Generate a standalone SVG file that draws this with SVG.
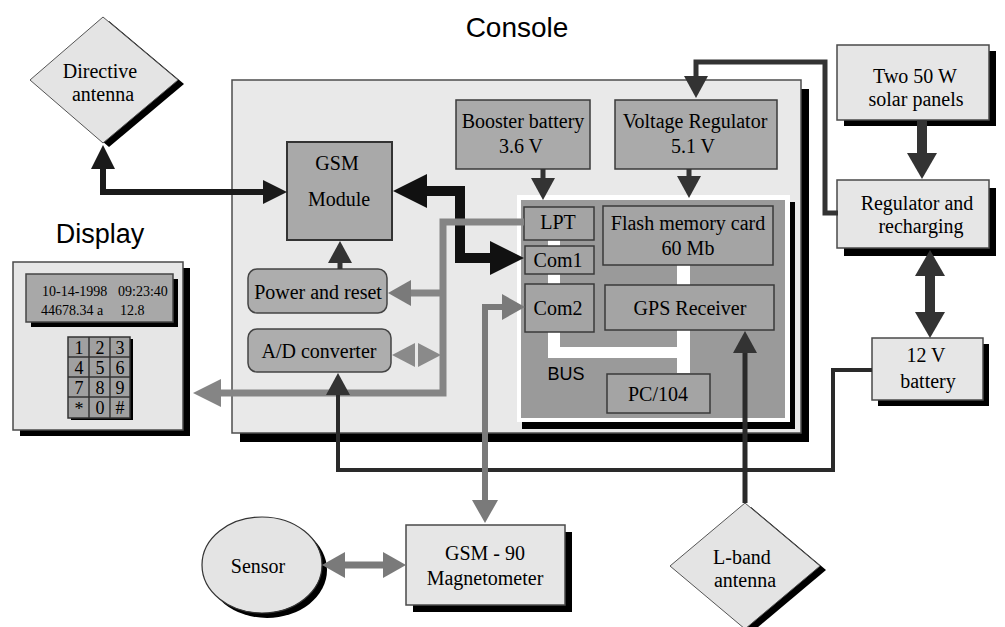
<svg xmlns="http://www.w3.org/2000/svg" width="1005" height="627" viewBox="0 0 1005 627">
<defs>
<style>
.t{font-family:"Liberation Serif","Times New Roman",serif;font-size:20px;fill:#000;text-anchor:middle}
.s{font-family:"Liberation Sans",Arial,sans-serif;fill:#000;text-anchor:middle}
.lt{fill:#e6e6e6;stroke:#4a4a4a;stroke-width:1.5}
.md{fill:#aaaaaa;stroke:#3a3a3a;stroke-width:1.5}
.ins{fill:#a4a4a4;stroke:#3a3a3a;stroke-width:1.5}
.sh{fill:#000}
.ln{fill:none;stroke-linejoin:miter}
</style>
<marker id="mBlk" viewBox="0 -12 24 24" markerWidth="24" markerHeight="24" markerUnits="userSpaceOnUse" refX="0" refY="0" orient="auto-start-reverse"><path d="M0,-12 L24,0 L0,12 z" fill="#1a1a1a"/></marker>
<marker id="mBig" viewBox="0 -17 34 34" markerWidth="34" markerHeight="34" markerUnits="userSpaceOnUse" refX="0" refY="0" orient="auto-start-reverse"><path d="M0,-17 L34,0 L0,17 z" fill="#111"/></marker>
<marker id="mDk" viewBox="0 -15 26 30" markerWidth="26" markerHeight="30" markerUnits="userSpaceOnUse" refX="0" refY="0" orient="auto-start-reverse"><path d="M0,-15 L26,0 L0,15 z" fill="#333"/></marker>
<marker id="mDkS" viewBox="0 -12 22 24" markerWidth="22" markerHeight="24" markerUnits="userSpaceOnUse" refX="0" refY="0" orient="auto-start-reverse"><path d="M0,-12 L22,0 L0,12 z" fill="#333"/></marker>
<marker id="mGr" viewBox="0 -14 28 28" markerWidth="28" markerHeight="28" markerUnits="userSpaceOnUse" refX="0" refY="0" orient="auto-start-reverse"><path d="M0,-14 L28,0 L0,14 z" fill="#858585"/></marker>
<marker id="mGrS" viewBox="0 -13 23 26" markerWidth="23" markerHeight="26" markerUnits="userSpaceOnUse" refX="0" refY="0" orient="auto-start-reverse"><path d="M0,-13 L23,0 L0,13 z" fill="#7a7a7a"/></marker>
</defs>
<rect width="1005" height="627" fill="#fff"/>

<g id="console">
<text class="s" x="517" y="37" font-size="28">Console</text>
<rect class="sh" x="240" y="89" width="569" height="353"/>
<rect x="232" y="80" width="569" height="353" fill="#e9e9e9" stroke="#4d4d4d" stroke-width="1.5"/>
</g>

<g id="pc104-board">
<rect class="sh" x="522" y="202" width="273" height="227"/>
<rect x="517" y="195" width="273" height="227" fill="#fff"/>
<rect x="521" y="200" width="264" height="218" fill="#9a9a9a"/>
<rect x="548" y="240" width="12" height="118" fill="#fff"/>
<rect x="548" y="347" width="142" height="11" fill="#fff"/>
<rect x="677" y="262" width="13" height="111" fill="#fff"/>
<text class="s" x="566" y="380" font-size="18" fill="#222">BUS</text>
</g>

<g id="lpt"><rect class="ins" x="524" y="207" width="70" height="33"/><text class="t" x="558" y="229">LPT</text></g>
<g id="com1"><rect class="ins" x="525" y="246" width="69" height="28"/><text class="t" x="558" y="267">Com1</text></g>
<g id="com2"><rect class="ins" x="525" y="284" width="69" height="48"/><text class="t" x="558" y="315">Com2</text></g>
<g id="flash"><rect class="ins" x="603" y="206" width="170" height="59"/><text class="t" x="688" y="230">Flash memory card</text><text class="t" x="688" y="255">60 Mb</text></g>
<g id="gps"><rect class="ins" x="605" y="285" width="169" height="45"/><text class="t" x="690" y="315">GPS Receiver</text></g>
<g id="pc104"><rect class="ins" x="607" y="374" width="103" height="39"/><text class="t" x="658" y="401">PC/104</text></g>

<g id="gsm-module"><rect x="287" y="142" width="105" height="98" fill="#a9a9a9" stroke="#333" stroke-width="2"/><text class="t" x="337" y="170">GSM</text><text class="t" x="339" y="206">Module</text></g>
<g id="power-reset"><rect x="248" y="269" width="139" height="44" rx="9" fill="#adadad" stroke="#444" stroke-width="1.5"/><text class="t" x="318" y="299">Power and reset</text></g>
<g id="ad-converter"><rect x="248" y="329" width="143" height="43" rx="9" fill="#adadad" stroke="#444" stroke-width="1.5"/><text class="t" x="319" y="358">A/D converter</text></g>
<g id="booster"><rect class="md" x="456" y="100" width="134" height="69"/><text class="t" x="523" y="128">Booster battery</text><text class="t" x="521" y="153">3.6 V</text></g>
<g id="voltage-regulator"><rect class="md" x="615" y="100" width="162" height="69"/><text class="t" x="695" y="128">Voltage Regulator</text><text class="t" x="693" y="153">5.1 V</text></g>

<g id="display">
<text class="s" x="100" y="243" font-size="27">Display</text>
<rect class="sh" x="20" y="268" width="170" height="168"/>
<rect class="lt" x="13" y="262" width="170" height="168"/>
<rect class="sh" x="31" y="279" width="147" height="48"/>
<rect x="26" y="274" width="147" height="48" fill="#a8a8a8" stroke="#444" stroke-width="1.5"/>
<g font-family="Liberation Serif,serif" font-size="14" fill="#000">
<text x="42" y="296">10-14-1998</text><text x="118" y="296">09:23:40</text>
<text x="41" y="315">44678.34 a</text><text x="120" y="315">12.8</text>
</g>
<rect class="sh" x="71" y="339" width="62" height="81"/>
<rect x="68" y="337" width="62" height="81" fill="#a0a0a0" stroke="#333" stroke-width="1.5"/>
<path d="M89,337V418M110,337V418M68,357H130M68,377H130M68,397H130" stroke="#333" stroke-width="1.5" fill="none"/>
<g font-family="Liberation Serif,serif" font-size="18" fill="#000" text-anchor="middle">
<text x="79" y="354">1</text><text x="100" y="354">2</text><text x="120" y="354">3</text>
<text x="79" y="374">4</text><text x="100" y="374">5</text><text x="120" y="374">6</text>
<text x="79" y="394">7</text><text x="100" y="394">8</text><text x="120" y="394">9</text>
<text x="79" y="415">*</text><text x="100" y="414">0</text><text x="120" y="414">#</text>
</g>
</g>

<g id="directive-antenna">
<polygon class="sh" points="109,21 184,84 109,147 36,84"/>
<polygon points="103,17 178,80 103,143 30,80" fill="#e4e4e4" stroke="#555" stroke-width="1"/>
<text class="t" x="100" y="78">Directive</text><text class="t" x="103" y="101">antenna</text>
</g>

<g id="lband-antenna">
<polygon class="sh" points="751,507 826,570 751,633 676,570"/>
<polygon points="745,503 820,566 745,629 670,566" fill="#e4e4e4" stroke="#555" stroke-width="1"/>
<text class="t" x="742" y="564">L-band</text><text class="t" x="745" y="587">antenna</text>
</g>

<g id="solar-panels"><rect class="sh" x="844" y="51" width="152" height="75"/><rect class="lt" x="837" y="45" width="152" height="75"/><text class="t" x="915" y="83">Two 50 W</text><text class="t" x="916" y="106">solar panels</text></g>
<g id="regulator-recharging"><rect class="sh" x="844" y="188" width="152" height="68"/><rect class="lt" x="837" y="180" width="152" height="68"/><text class="t" x="917" y="210">Regulator and</text><text class="t" x="921" y="233">recharging</text></g>
<g id="battery-12v"><rect class="sh" x="878" y="344" width="111" height="62"/><rect class="lt" x="872" y="338" width="111" height="62"/><text class="t" x="926" y="362">12 V</text><text class="t" x="928" y="388">battery</text></g>
<g id="magnetometer"><rect class="sh" x="413" y="532" width="159" height="80"/><rect class="lt" x="406" y="525" width="159" height="80"/><text class="t" x="485" y="560">GSM - 90</text><text class="t" x="485" y="585">Magnetometer</text></g>
<g id="sensor"><ellipse class="sh" cx="267" cy="570" rx="60" ry="48"/><ellipse cx="262" cy="565" rx="60" ry="48" fill="#e4e4e4" stroke="#333" stroke-width="1.2"/><text class="t" x="258" y="573">Sensor</text></g>

<g id="connectors">
<path class="ln" d="M103,169 L103,192 L263,192" stroke="#1a1a1a" stroke-width="6" marker-start="url(#mBlk)" marker-end="url(#mBlk)"/>
<path class="ln" d="M427,191 L460,191 L460,258 L490,258" stroke="#111" stroke-width="10" marker-start="url(#mBig)" marker-end="url(#mBig)"/>
<path class="ln" d="M524,222 L443,222 L443,393 L221,393" stroke="#858585" stroke-width="7" marker-end="url(#mGr)"/>
<path class="ln" d="M443,293 L411,293" stroke="#858585" stroke-width="7" marker-end="url(#mGrS)"/>
<polygon points="392,355 415,343 415,367" fill="#8a8a8a"/>
<polygon points="441,355 418,343 418,367" fill="#8a8a8a"/>
<path class="ln" d="M340,269 L340,263" stroke="#333" stroke-width="5" marker-end="url(#mDkS)"/>
<path class="ln" d="M543,169 L543,178" stroke="#333" stroke-width="5" marker-end="url(#mDkS)"/>
<path class="ln" d="M689,169 L689,176" stroke="#333" stroke-width="5" marker-end="url(#mDkS)"/>
<path class="ln" d="M838,213 L825,213 L825,62 L696,62 L696,76" stroke="#333" stroke-width="5" marker-end="url(#mDkS)"/>
<path class="ln" d="M922,120 L922,153" stroke="#333" stroke-width="10" marker-end="url(#mDk)"/>
<path class="ln" d="M930,276 L930,312" stroke="#333" stroke-width="10" marker-start="url(#mDk)" marker-end="url(#mDk)"/>
<path class="ln" d="M872,370 L833,370 L833,470 L338,470 L338,395" stroke="#2a2a2a" stroke-width="4" marker-end="url(#mDkS)"/>
<path class="ln" d="M745,503 L745,353" stroke="#2a2a2a" stroke-width="5" marker-end="url(#mDkS)"/>
<path class="ln" d="M502,307 L485,307 L485,500" stroke="#7a7a7a" stroke-width="6" marker-start="url(#mGrS)" marker-end="url(#mGrS)"/>
<path class="ln" d="M345,565 L383,565" stroke="#7a7a7a" stroke-width="7" marker-start="url(#mGrS)" marker-end="url(#mGrS)"/>
</g>
</svg>
